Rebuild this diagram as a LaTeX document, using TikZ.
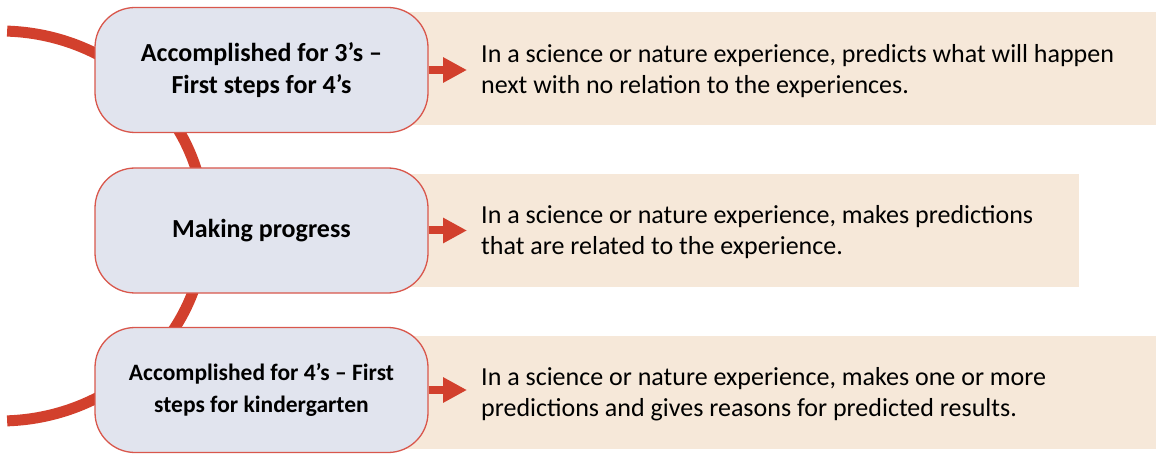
\documentclass[tikz,border=0pt]{standalone}
\usepackage{fontspec}
\setmainfont{Carlito}
\usetikzlibrary{arrows.meta, positioning}

\definecolor{spinered}{HTML}{D2402D}
\definecolor{boxred}{HTML}{D9574C}
\definecolor{boxfill}{HTML}{E1E4EE}
\definecolor{panelfill}{HTML}{F6E8D9}

\begin{document}
\begin{tikzpicture}[
  x=1pt, y=1pt,
  stage/.style={draw=boxred, line width=1.3pt, fill=boxfill, rounded corners=40pt, minimum width=333pt, minimum height=125pt, align=center, font=\fontsize{26}{32}\selectfont\bfseries},
  panel/.style={fill=panelfill, anchor=west, minimum height=113pt, inner sep=0pt},
  desc/.style={anchor=west, align=left, inner sep=0pt, font=\fontsize{26}{31}\selectfont},
  arrow/.style={-{Triangle[length=24pt, width=24pt]}, line width=8pt, spinered}
]
\useasboundingbox (0,0) rectangle (1156,453);

% Panels behind the descriptions
\node[panel, minimum width=756pt] (P1) at (400,384) {};
\node[panel, minimum width=679pt] (P2) at (400,222.5) {};
\node[panel, minimum width=756pt] (P3) at (400,60.5) {};

% Spine
\draw[spinered, line width=11pt] (7.15,421.9) arc[start angle=88, end angle=-88, x radius=205, y radius=195];

% Row 1: accomplished for 3's
\node[stage] (S1) at (261.5,383) {Accomplished for 3’s –\\First steps for 4’s};
\node[desc] (D1) at (481,382) {In a science or nature experience, predicts what will happen\\next with no relation to the experiences.};
\draw[arrow] (S1.east) -- (S1.east -| D1.west) [shorten >=14pt];

% Row 2: making progress
\node[stage] (S2) at (261.5,222.5) {Making progress};
\node[desc] (D2) at (481,221) {In a science or nature experience, makes predictions\\that are related to the experience.};
\draw[arrow] (S2.east) -- (S2.east -| D2.west) [shorten >=14pt];

% Row 3: accomplished for 4's
\node[stage, font=\fontsize{23.5}{32}\selectfont\bfseries] (S3) at (261.5,63) {Accomplished for 4’s – First\\steps for kindergarten};
\node[desc] (D3) at (481,59) {In a science or nature experience, makes one or more\\predictions and gives reasons for predicted results.};
\draw[arrow] (S3.east) -- (S3.east -| D3.west) [shorten >=14pt];

\end{tikzpicture}
\end{document}
